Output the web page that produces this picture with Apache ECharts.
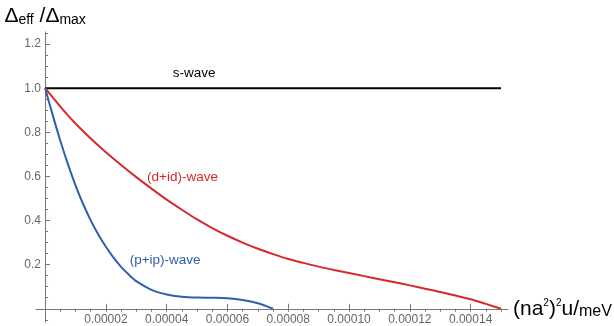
<!DOCTYPE html>
<html>
<head>
<meta charset="UTF-8">
<title>gap ratio</title>
<style>
body {
    padding:0;
    border:0;
    margin:0;
}
</style>
<script src="https://cdn.jsdelivr.net/npm/echarts@6/dist/echarts.min.js"></script>
</head>
<body>
<div id="main" style="width:614px;height:326px;"></div>
<script>
// x = (na^2)^2 u / meV,  y = gap ratio
var sX = [0, 0.00015];
var sY = [1, 1];

var dX = [0, 0.5e-5, 1e-5, 1.5e-5, 2e-5, 2.5e-5, 3e-5, 3.5e-5, 4e-5, 4.5e-5, 5e-5,
          5.5e-5, 6e-5, 6.5e-5, 7e-5, 7.5e-5, 8e-5, 8.5e-5, 9e-5, 9.5e-5, 10e-5,
          10.5e-5, 11e-5, 11.5e-5, 12e-5, 12.5e-5, 13e-5, 13.5e-5, 14e-5, 14.5e-5, 15e-5];
var dY = [1.0, 0.917, 0.84, 0.772, 0.71, 0.652, 0.597, 0.545, 0.495, 0.449, 0.405,
          0.366, 0.331, 0.300, 0.272, 0.248, 0.226, 0.208, 0.191, 0.176, 0.162,
          0.148, 0.134, 0.120, 0.106, 0.091, 0.076, 0.060, 0.043, 0.022, 0.0];

var pX = [0, 0.25e-5, 0.5e-5, 0.75e-5, 1e-5, 1.25e-5, 1.5e-5, 1.75e-5, 2e-5, 2.25e-5, 2.5e-5,
          2.75e-5, 3e-5, 3.5e-5, 4e-5, 4.5e-5, 5e-5, 5.5e-5, 6e-5, 6.5e-5, 7e-5, 7.5e-5];
var pY = [1.0, 0.878, 0.762, 0.656, 0.56, 0.475, 0.401, 0.337, 0.281, 0.232, 0.19,
          0.155, 0.125, 0.086, 0.065, 0.055, 0.051, 0.050, 0.048, 0.040, 0.025, 0.0];

var names = ['s-wave', '(d+id)-wave', '(p+ip)-wave'];
var labelAt = [[0.000049, 1.068], [0.0000452, 0.596], [0.0000395, 0.22]];

var xTicks = [0.00002, 0.00004, 0.00006, 0.00008, 0.00010, 0.00012, 0.00014];
var yTicks = [0.2, 0.4, 0.6, 0.8, 1.0, 1.2];

var xMinor = [];
for (var i = 1; i <= 30; i++) xMinor.push(i * 0.000005);
var yMinor = [];
for (var j = -1; j <= 25; j++) if (j !== 0) yMinor.push(j * 0.05);

function pairs(xs, ys) {
    var out = [];
    for (var k = 0; k < xs.length; k++) out.push([xs[k], ys[k]]);
    return out;
}

var FONT = 'Liberation Sans, Arial, sans-serif';
var AX = '#777';
var colors = ['#000000', '#d42a2f', '#2f5fae'];

var chart = echarts.init(document.getElementById('main'));

function tag(k) {
    return {
        symbol: 'circle',
        symbolSize: 0,
        silent: true,
        label: {
            show: true, position: 'inside', formatter: names[k],
            color: colors[k], fontSize: 13.5, fontFamily: FONT
        },
        data: [{coord: labelAt[k]}]
    };
}

var option = {
    animation: false,
    grid: {left: 36, right: 106, top: 32, bottom: 4, outerBoundsMode: 'none', containLabel: false},
    xAxis: [{
        type: 'value', min: -0.000003, max: 0.0001523,
        axisLine: {show: true, onZero: true, lineStyle: {color: AX, width: 1}},
        axisTick: {show: true, inside: true, length: 5, customValues: xTicks, lineStyle: {color: AX}},
        axisLabel: {
            customValues: xTicks, color: '#666', fontSize: 12, fontFamily: FONT, margin: -8.5,
            formatter: function (v) { return v.toFixed(5); }
        },
        splitLine: {show: false},
        name: '{p|(na}{sup|2}{p|)}{sup|2}{p|u/}{m|meV}',
        nameLocation: 'end', nameGap: 5,
        nameTextStyle: {
            align: 'left', verticalAlign: 'middle', color: '#000', fontFamily: FONT,
            rich: {
                p: {fontSize: 21, lineHeight: 22, verticalAlign: 'bottom', fontFamily: FONT, color: '#000'},
                sup: {fontSize: 10, lineHeight: 10, verticalAlign: 'top', fontFamily: FONT, color: '#000'},
                m: {fontSize: 16, lineHeight: 19, verticalAlign: 'bottom', fontFamily: FONT, color: '#000'}
            }
        }
    }, {
        type: 'value', min: -0.000003, max: 0.0001523,
        axisLine: {show: false, onZero: true},
        axisTick: {show: true, inside: true, length: 3, customValues: xMinor, lineStyle: {color: AX}},
        axisLabel: {show: false},
        splitLine: {show: false}
    }],
    yAxis: [{
        type: 'value', min: -0.06, max: 1.255,
        axisLine: {show: true, onZero: true, lineStyle: {color: AX, width: 1}},
        axisTick: {show: true, inside: true, length: 5, customValues: yTicks, lineStyle: {color: AX}},
        axisLabel: {
            customValues: yTicks, color: '#666', fontSize: 12, fontFamily: FONT, margin: -5,
            formatter: function (v) { return v.toFixed(1); }
        },
        splitLine: {show: false},
        name: '{d|Δ}{s|eff}{p| /}{d|Δ}{s|max}',
        nameLocation: 'end', nameGap: 5,
        nameTextStyle: {
            color: '#000', fontFamily: FONT,
            rich: {
                d: {fontSize: 21, lineHeight: 21, verticalAlign: 'top', fontFamily: FONT, color: '#000'},
                p: {fontSize: 21, lineHeight: 21, verticalAlign: 'top', fontFamily: FONT, color: '#000'},
                s: {fontSize: 14, lineHeight: 14, padding: [9, 0, 0, 0], verticalAlign: 'bottom', fontFamily: FONT, color: '#000'}
            }
        }
    }, {
        type: 'value', min: -0.06, max: 1.255, position: 'left',
        axisLine: {show: false, onZero: true},
        axisTick: {show: true, inside: true, length: 3, customValues: yMinor, lineStyle: {color: AX}},
        axisLabel: {show: false},
        splitLine: {show: false}
    }],
    series: [{
        name: names[0], type: 'line', data: pairs(sX, sY), showSymbol: false,
        lineStyle: {color: colors[0], width: 2}, z: 3, markPoint: tag(0)
    }, {
        name: names[1], type: 'line', data: pairs(dX, dY), showSymbol: false, smooth: 0.3,
        lineStyle: {color: colors[1], width: 2}, z: 4, markPoint: tag(1)
    }, {
        name: names[2], type: 'line', data: pairs(pX, pY), showSymbol: false, smooth: 0.3,
        lineStyle: {color: colors[2], width: 2}, z: 5, markPoint: tag(2)
    }]
};

chart.setOption(option);
</script>
</body>
</html>
